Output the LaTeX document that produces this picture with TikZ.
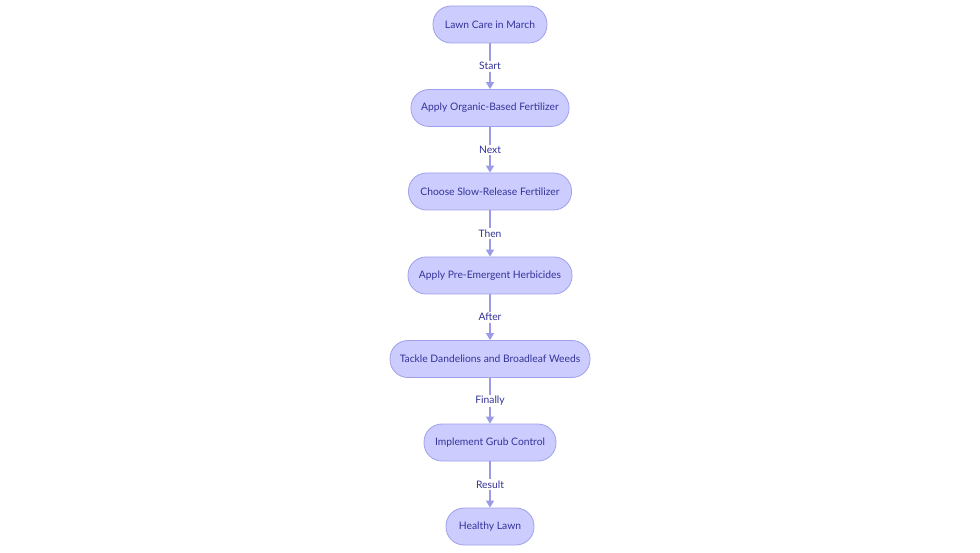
\documentclass[tikz,border=0pt]{standalone}
\usepackage{fontspec}
\setmainfont{Lato}
\usetikzlibrary{arrows.meta}
\definecolor{nodefill}{HTML}{CCCCFF}
\definecolor{nodeborder}{HTML}{A0A0EC}
\definecolor{txt}{HTML}{333399}
\definecolor{edge}{HTML}{9A9AE6}
\begin{document}
\begin{tikzpicture}[x=1pt,y=1pt,
  stepbox/.style={draw=nodeborder, fill=nodefill, line width=0.8pt, rounded corners=18pt,
    minimum height=37pt, inner xsep=8pt, text=txt, font=\fontsize{10.3}{12}\selectfont},
  conn/.style={draw=edge, line width=1.2pt, -{Triangle[length=7pt,width=8pt]}},
  lbl/.style={fill=white, text=txt, font=\fontsize{10.3}{12}\selectfont, inner sep=1.5pt}]
\useasboundingbox (0,0) rectangle (980,-553);
\node[stepbox, minimum width=114pt] (n1) at (490,-24.5) {Lawn Care in March};
\node[stepbox, minimum width=158pt] (n2) at (490,-108) {Apply Organic-Based Fertilizer};
\node[stepbox, minimum width=163pt] (n3) at (490,-191.5) {Choose Slow-Release Fertilizer};
\node[stepbox, minimum width=164pt] (n4) at (490,-275.5) {Apply Pre-Emergent Herbicides};
\node[stepbox, minimum width=200pt] (n5) at (490,-359) {Tackle Dandelions and Broadleaf Weeds};
\node[stepbox, minimum width=132pt] (n6) at (490,-442.5) {Implement Grub Control};
\node[stepbox, minimum width=88pt] (n7) at (490,-526.5) {Healthy Lawn};
\draw[conn] (n1) -- node[lbl] {Start} (n2);
\draw[conn] (n2) -- node[lbl] {Next} (n3);
\draw[conn] (n3) -- node[lbl] {Then} (n4);
\draw[conn] (n4) -- node[lbl] {After} (n5);
\draw[conn] (n5) -- node[lbl] {Finally} (n6);
\draw[conn] (n6) -- node[lbl] {Result} (n7);
\end{tikzpicture}
\end{document}
